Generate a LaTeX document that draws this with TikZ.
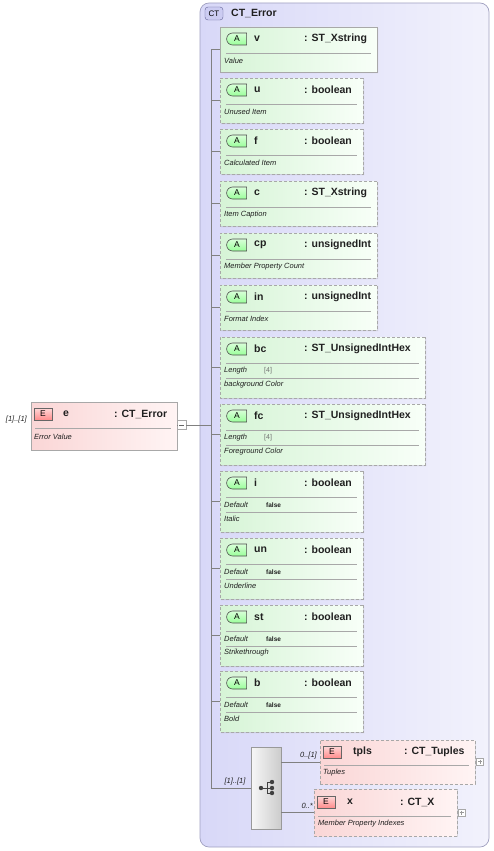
\documentclass[tikz,border=0pt]{standalone}
\usepackage{fontspec}
\setmainfont{Liberation Sans}
\usetikzlibrary{shapes.misc,shadows}
\definecolor{xlavl}{RGB}{216,216,248}
\definecolor{xlavr}{RGB}{242,242,252}
\definecolor{xlavline}{RGB}{160,160,192}
\definecolor{xctfill}{RGB}{204,204,242}
\definecolor{xctline}{RGB}{96,96,150}
\definecolor{xattrl}{RGB}{214,244,214}
\definecolor{xattrr}{RGB}{248,255,248}
\definecolor{xelemr}{RGB}{255,244,244}
\definecolor{xeleml}{RGB}{250,214,214}
\definecolor{xline}{RGB}{168,168,168}
\definecolor{xconn}{RGB}{128,128,128}
\definecolor{xtext}{RGB}{32,32,32}

\begin{document}
\begin{tikzpicture}[x=1pt,y=-1pt,
  conn/.style={draw=xconn,line width=0.6pt},
  sepline/.style={draw=xline,line width=0.6pt},
  attrbox/.style={chamfered rectangle,chamfered rectangle corners={north west,south west},
    chamfered rectangle sep=3pt,draw=xline,line width=0.7pt,left color=xattrl,right color=xattrr,
    inner sep=0pt,drop shadow={shadow xshift=1.2pt,shadow yshift=-1.2pt,opacity=0.25}},
  elembox/.style={rectangle,draw=xline,line width=0.7pt,left color=xeleml,right color=xelemr,
    inner sep=0pt,drop shadow={shadow xshift=1.2pt,shadow yshift=-1.2pt,opacity=0.25}},
  optbox/.style={dash pattern=on 3pt off 2pt},
  abadge/.style={rounded rectangle,rounded rectangle right arc=none,draw=black!70,line width=0.6pt,
    top color=green!15!white,bottom color=green!40!white,minimum width=20pt,minimum height=12pt,inner sep=0pt,
    font=\fontsize{8.5}{10}\selectfont},
  ebadge/.style={rectangle,draw=black!60,line width=0.6pt,top color=red!15!white,bottom color=red!45!white,
    minimum width=18pt,minimum height=12pt,inner sep=0pt,font=\fontsize{8.5}{10}\selectfont},
  hname/.style={anchor=west,inner sep=0pt,text=xtext,font=\bfseries\fontsize{10.5}{12}\selectfont},
  docs/.style={anchor=west,inner sep=0pt,text=xtext,font=\itshape\fontsize{7.5}{9}\selectfont},
  mult/.style={inner sep=0pt,text=xtext,font=\itshape\fontsize{7.5}{9}\selectfont},
  plusbox/.style={rectangle,draw=xline,fill=white,minimum size=7pt,inner sep=0pt},
]
\useasboundingbox (0,0) rectangle (493,851);

% complex type frame
\node[rectangle,rounded corners=9pt,draw=xlavline,line width=0.7pt,left color=xlavl,right color=xlavr,
  minimum width=289,minimum height=844,inner sep=0pt] (frame) at (344.5,425) {};
\node[rectangle,rounded corners=3pt,draw=xctline,fill=xctfill,minimum width=18pt,
  minimum height=13pt,inner sep=0pt,font=\fontsize{8}{9}\selectfont] (ctbadge) at (214,13.5) {CT};
\node[hname] (ctname) at (231,13.5) {CT\_Error};
\coordinate (trunk) at (211,0);

% attributes
\node[attrbox,minimum width=157,minimum height=45] (av) at (298.5,49.5) {};
\node[abadge] (abv) at (237,39) {A};
\node[hname] (anv) at (254,39) {v};
\node[hname] (atv) at (304,39) {: ST\_Xstring};
\draw[sepline] (226,53) -- (371,53);
\node[docs] (adv) at (224,61) {Value};
\draw[conn] (av.west -| trunk) -- (av.west);

\foreach \n/\ty/\doc/\yy/\rx in {u/boolean/Unused Item/78/363,f/boolean/Calculated Item/129/363,
    c/ST\_Xstring/Item Caption/181/377,cp/unsignedInt/Member Property Count/233/377,
    in/unsignedInt/Format Index/285/377}{
  \node[attrbox,optbox,minimum width=\rx-220,minimum height=45] (a\n) at ({(220+\rx)/2},\yy+22.5) {};
  \node[abadge] (ab\n) at (237,\yy+12) {A};
  \node[hname] (an\n) at (254,\yy+12) {\n};
  \node[hname] (at\n) at (304,\yy+12) {: \ty};
  \draw[sepline] (226,\yy+26) -- (\rx-6,\yy+26);
  \node[docs] (ad\n) at (224,\yy+34) {\doc};
  \draw[conn] (a\n.west -| trunk) -- (a\n.west);
}

\foreach \n/\doc/\yy in {bc/background Color/337,fc/Foreground Color/404}{
  \node[attrbox,optbox,minimum width=205,minimum height=61] (a\n) at (322.5,\yy+30.5) {};
  \node[abadge] (ab\n) at (237,\yy+12) {A};
  \node[hname] (an\n) at (254,\yy+12) {\n};
  \node[hname] (at\n) at (304,\yy+12) {: ST\_UnsignedIntHex};
  \draw[sepline] (226,\yy+26) -- (419,\yy+26);
  \node[docs] (al\n) at (224,\yy+34) {Length};
  \node[docs,font=\fontsize{7}{8}\selectfont,text=black!55] (av\n) at (264,\yy+34) {[4]};
  \draw[sepline] (226,\yy+41) -- (419,\yy+41);
  \node[docs] (ad\n) at (224,\yy+48) {\doc};
  \draw[conn] (a\n.west -| trunk) -- (a\n.west);
}

\foreach \n/\doc/\yy in {i/Italic/471,un/Underline/538,st/Strikethrough/605,b/Bold/671}{
  \node[attrbox,optbox,minimum width=143,minimum height=61] (a\n) at (291.5,\yy+30.5) {};
  \node[abadge] (ab\n) at (237,\yy+12) {A};
  \node[hname] (an\n) at (254,\yy+12) {\n};
  \node[hname] (at\n) at (304,\yy+12) {: boolean};
  \draw[sepline] (226,\yy+26) -- (357,\yy+26);
  \node[docs] (al\n) at (224,\yy+34) {Default};
  \node[docs,font=\bfseries\fontsize{6.5}{8}\selectfont] (av\n) at (266,\yy+34) {false};
  \draw[sepline] (226,\yy+41) -- (357,\yy+41);
  \node[docs] (ad\n) at (224,\yy+48) {\doc};
  \draw[conn] (a\n.west -| trunk) -- (a\n.west);
}

% root element
\node[elembox,minimum width=146,minimum height=48] (e) at (104,426) {};
\node[ebadge] (ebe) at (43,414) {E};
\node[hname] (ene) at (63,414) {e};
\node[hname] (ete) at (114,414) {: CT\_Error};
\draw[sepline] (35,428) -- (171,428);
\node[docs] (ade) at (34,437) {Error Value};
\node[mult,anchor=east] (me) at (27,420) {[1]..[1]};
\node[plusbox,minimum size=9pt] (eminus) at (181.5,425) {};
\draw[black!60,line width=0.6pt] (eminus.west) ++(2,0) -- ++(5,0);
\draw[conn] (eminus.west -| e.east) -- (eminus.west);
\draw[conn] (eminus.east) -- (eminus.east -| trunk);

% sequence
\node[rectangle,draw=black!40,line width=0.6pt,left color=black!3,right color=black!20,
  minimum width=30,minimum height=82,inner sep=0pt] (seq) at (266,788) {};
\fill[black!75] (261,788) circle (2.2pt) (272,782) circle (2.2pt) (272,788) circle (2.2pt) (272,793) circle (2.2pt);
\draw[black!75,line width=0.8pt] (261,788) -- (267,788) (267,782) -- (267,793)
  (267,782) -- (272,782) (267,793) -- (272,793) (267,788) -- (272,788);
\draw[conn] (av.west -| trunk) -- (seq.west -| trunk) -- (seq.west);
\node[mult] (mseq) at (235,782) {[1]..[1]};

% child elements
\node[elembox,optbox,minimum width=155,minimum height=44] (tpls) at (397.5,762) {};
\node[ebadge] (ebt) at (332,752) {E};
\node[hname] (ent) at (353,752) {tpls};
\node[hname] (ett) at (404,752) {: CT\_Tuples};
\draw[sepline] (324,765) -- (469,765);
\node[docs] (adt) at (323,773) {Tuples};
\node[plusbox] (tplus) at (480,761.5) {};
\draw[black!40,line width=0.5pt] (480,759.5) -- (480,763.5) (478,761.5) -- (482,761.5);
\node[mult,anchor=east] (mt) at (317,756) {0..[1]};
\draw[conn] (tpls.west -| seq.east) -- (tpls.west);

\node[elembox,optbox,minimum width=143,minimum height=47] (x) at (385.5,812.5) {};
\node[ebadge] (ebx) at (326,802) {E};
\node[hname] (enx) at (347,802) {x};
\node[hname] (etx) at (400,802) {: CT\_X};
\draw[sepline] (318,816) -- (451,816);
\node[docs] (adx) at (318,824) {Member Property Indexes};
\node[plusbox] (xplus) at (461.5,812.5) {};
\draw[black!40,line width=0.5pt] (461.5,810.5) -- (461.5,814.5) (459.5,812.5) -- (463.5,812.5);
\node[mult,anchor=east] (mx) at (313,806) {0..*};
\draw[conn] (x.west -| seq.east) -- (x.west);
\end{tikzpicture}
\end{document}
